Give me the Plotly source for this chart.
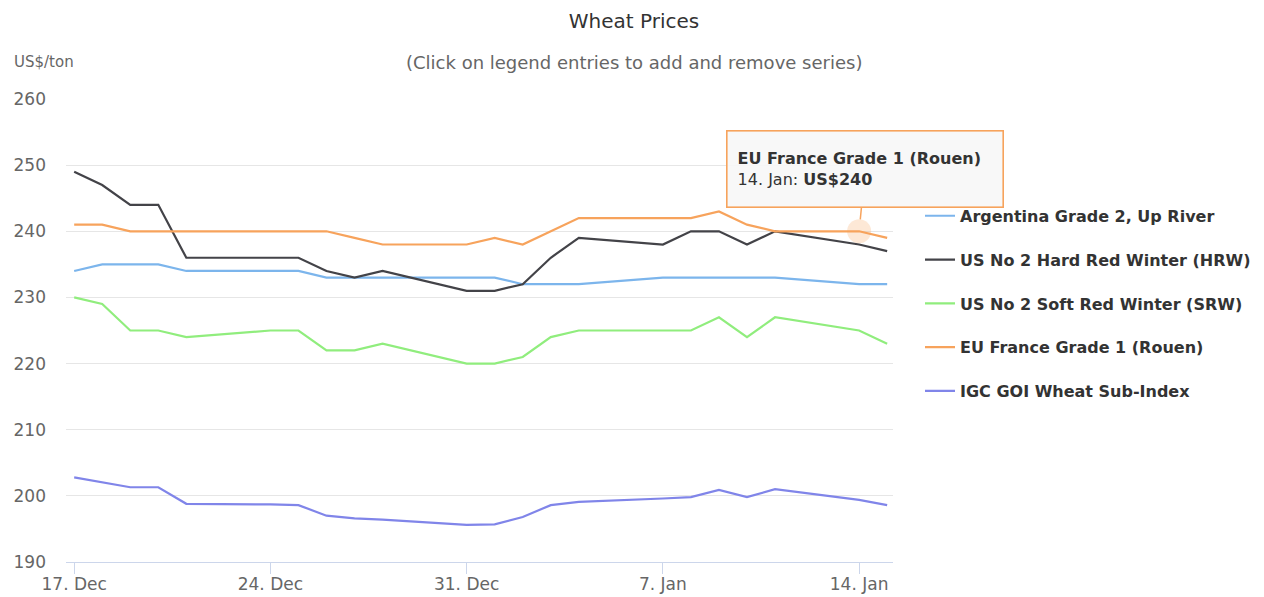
import plotly.graph_objects as go

dates = ["2018-12-17", "2018-12-18", "2018-12-19", "2018-12-20", "2018-12-21",
         "2018-12-24", "2018-12-25", "2018-12-26", "2018-12-27", "2018-12-28",
         "2018-12-31", "2019-01-01", "2019-01-02", "2019-01-03", "2019-01-04",
         "2019-01-07", "2019-01-08", "2019-01-09", "2019-01-10", "2019-01-11",
         "2019-01-14", "2019-01-15"]

argentina = [234, 235, 235, 235, 234, 234, 234, 233, 233, 233, 233,
             233, 232, 232, 232, 233, 233, 233, 233, 233, 232, 232]
us_hrw = [249, 247, 244, 244, 236, 236, 236, 234, 233, 234, 231,
          231, 232, 236, 239, 238, 240, 240, 238, 240, 238, 237]
us_srw = [230, 229, 225, 225, 224, 225, 225, 222, 222, 223, 220,
          220, 221, 224, 225, 225, 225, 227, 224, 227, 225, 223]
eu_france = [241, 241, 240, 240, 240, 240, 240, 240, 239, 238, 238,
             239, 238, 240, 242, 242, 242, 243, 241, 240, 240, 239]
igc_goi = [202.8, 202.0, 201.3, 201.3, 198.8, 198.7, 198.6, 197.0, 196.6, 196.4, 195.6,
           195.7, 196.8, 198.6, 199.1, 199.6, 199.8, 200.9, 199.8, 201.0, 199.4, 198.6]

series = [
    ("Argentina Grade 2, Up River", argentina, "#7cb5ec"),
    ("US No 2 Hard Red Winter (HRW)", us_hrw, "#434348"),
    ("US No 2 Soft Red Winter (SRW)", us_srw, "#90ed7d"),
    ("EU France Grade 1 (Rouen)", eu_france, "#f7a35c"),
    ("IGC GOI Wheat Sub-Index", igc_goi, "#8085e9"),
]

FONT = "DejaVu Sans, Open Sans, sans-serif"

# the page body adds 8px around the figure, so the figure is 8px smaller
W, H = 1256, 589
L, R, T, B = 58, 371, 91, 35
PW, PH = W - L - R, H - T - B

fig = go.Figure()
for name, vals, color in series:
    fig.add_trace(go.Scatter(
        x=dates, y=vals, name=name, mode="lines",
        line=dict(color=color, width=2.2),
        legendgroup=name,
    ))

# hovered point halo (EU France on 14 Jan)
hi = dates.index("2019-01-14")
fig.add_trace(go.Scatter(
    x=[dates[hi]], y=[eu_france[hi]], mode="markers",
    marker=dict(size=24, color="rgba(247,163,92,0.25)"),
    showlegend=False, hoverinfo="skip",
))

fig.add_annotation(
    x=dates[hi], y=eu_france[hi], xref="x", yref="y",
    text="<b>EU France Grade 1 (Rouen)</b><br>14. Jan: <b>US$240</b>",
    align="left", showarrow=True, arrowhead=0, arrowwidth=1.5,
    arrowcolor="#f7a35c", ax=6, ay=-62, standoff=12,
    width=255, height=55, valign="middle",
    bgcolor="rgba(247,247,247,0.9)", bordercolor="#f7a35c", borderwidth=1.6,
    borderpad=10, font=dict(family=FONT, size=16, color="#333333"),
)

fig.add_annotation(
    text="(Click on legend entries to add and remove series)",
    xref="paper", yref="paper", x=(626 - L) / PW, y=1.0 + (T - 54) / PH,
    xanchor="center", yanchor="middle", showarrow=False,
    font=dict(family=FONT, size=18, color="#666666"),
)
fig.add_annotation(
    text="US$/ton", xref="paper", yref="paper", x=(4 - L) / PW, y=1.0 + (T - 54) / PH,
    xanchor="left", yanchor="middle", showarrow=False,
    font=dict(family=FONT, size=15, color="#666666"),
)

fig.update_layout(
    width=W, height=H,
    margin=dict(l=L, r=R, t=T, b=B, autoexpand=False),
    paper_bgcolor="white", plot_bgcolor="white",
    font=dict(family=FONT, color="#666666"),
    title=dict(text="Wheat Prices", x=626 / W, xref="container", xanchor="center",
               y=1 - 13 / H, yanchor="middle",
               font=dict(family=FONT, size=20, color="#333333")),
    hovermode=False,
    legend=dict(x=(912 - L) / PW, y=0.78 + 2 / PH, xanchor="left", yanchor="top",
                font=dict(family=FONT, size=16, color="#333333", weight="bold"),
                tracegroupgap=20, itemwidth=30),
    xaxis=dict(
        type="date", range=["2018-12-16 17:00", "2019-01-15 05:00"],
        tick0="2018-12-17", dtick=7 * 86400000, tickformat="%-d. %b",
        showgrid=False, showline=True, linecolor="#ccd6eb", linewidth=1,
        ticks="outside", ticklen=11, tickcolor="#ccd6eb", automargin=False,
        ticklabelstandoff=-4,
        tickfont=dict(family=FONT, size=17, color="#666666"),
    ),
    yaxis=dict(
        range=[190, 260], dtick=10, showgrid=True, gridcolor="#e6e6e6",
        zeroline=False, showline=False, ticklabelstandoff=19, automargin=False,
        tickfont=dict(family=FONT, size=17, color="#666666"),
    ),
)

fig.write_html("out.html")
